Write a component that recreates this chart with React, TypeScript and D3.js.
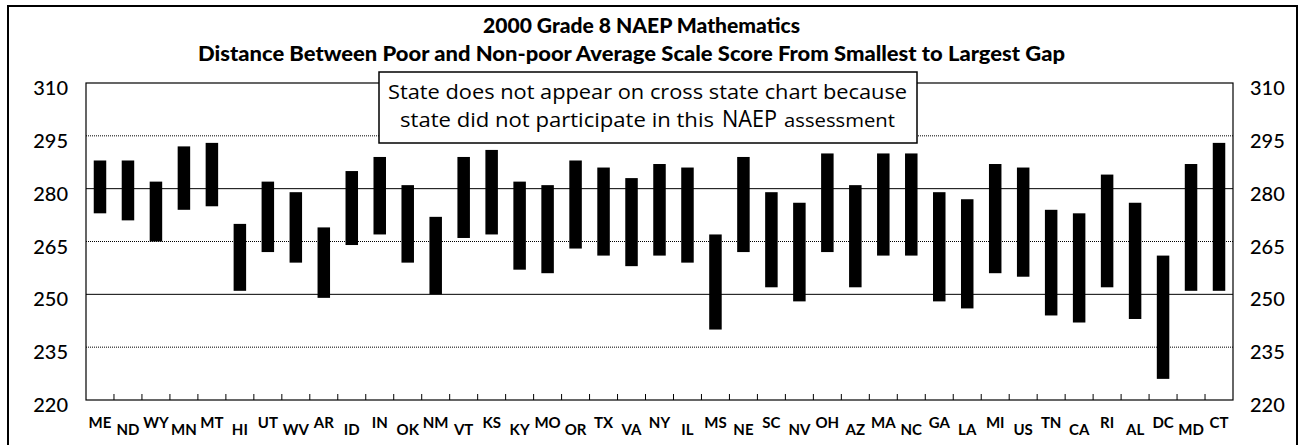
import React, { useEffect, useRef } from 'react';
import * as d3 from 'd3';

// states ordered from smallest to largest poor / non-poor gap
const states = ['ME', 'ND', 'WY', 'MN', 'MT', 'HI', 'UT', 'WV', 'AR', 'ID', 'IN', 'OK', 'NM', 'VT', 'KS', 'KY', 'MO', 'OR', 'TX', 'VA', 'NY', 'IL', 'MS', 'NE', 'SC', 'NV', 'OH', 'AZ', 'MA', 'NC', 'GA', 'LA', 'MI', 'US', 'TN', 'CA', 'RI', 'AL', 'DC', 'MD', 'CT'];
// poor students average scale score (bottom of bar)
const poorScores = [273, 271, 265, 274, 275, 251, 262, 259, 249, 264, 267, 259, 250, 266, 267, 257, 256, 263, 261, 258, 261, 259, 240, 262, 252, 248, 262, 252, 261, 261, 248, 246, 256, 255, 244, 242, 252, 243, 226, 251, 251];
// non-poor students average scale score (top of bar)
const nonPoorScores = [288, 288, 282, 292, 293, 270, 282, 279, 269, 285, 289, 281, 272, 289, 291, 282, 281, 288, 286, 283, 287, 286, 267, 289, 279, 276, 290, 281, 290, 290, 279, 277, 287, 286, 274, 273, 284, 276, 261, 287, 293];
const yTicks = [220, 235, 250, 265, 280, 295, 310];
const solidGrid = [250, 280];
const dottedGrid = [235, 265, 295];

const App = () => {
  const svgRef = useRef(null);

  useEffect(() => {
    const W = 1299, H = 445;
    const plot = { left: 86, right: 1233, top: 83, bottom: 400 };

    const svg = d3.select(svgRef.current);
    svg.selectAll('*').remove();
    svg.attr('width', W).attr('height', H).style('background', 'white');

    const x = d3.scaleBand().domain(states).range([plot.left, plot.right]).padding(0);
    const y = d3.scaleLinear().domain([220, 310]).range([plot.bottom, plot.top]);

    // outer frame
    svg.append('path')
      .attr('d', `M8,${H + 2}V6H1297V${H + 2}`)
      .attr('fill', 'none')
      .attr('stroke', '#000')
      .attr('stroke-width', 2);

    // titles
    const titleFont = 'Lato, "Open Sans", sans-serif';
    svg.append('text')
      .attr('x', 483).attr('y', 33)
      .attr('textLength', 317).attr('lengthAdjust', 'spacingAndGlyphs')
      .style('font-family', titleFont).style('font-weight', 900).style('font-size', '20px')
      .text('2000 Grade 8 NAEP Mathematics');
    svg.append('text')
      .attr('x', 198).attr('y', 61)
      .attr('textLength', 867).attr('lengthAdjust', 'spacingAndGlyphs')
      .style('font-family', titleFont).style('font-weight', 900).style('font-size', '20px')
      .text('Distance Between Poor and Non-poor Average Scale Score From Smallest to Largest Gap');

    // gridlines
    svg.selectAll('.grid-solid').data(solidGrid).enter().append('line')
      .attr('x1', plot.left).attr('x2', plot.right)
      .attr('y1', d => y(d)).attr('y2', d => y(d))
      .attr('stroke', '#000').attr('stroke-width', 1);
    svg.selectAll('.grid-dot').data(dottedGrid).enter().append('line')
      .attr('x1', plot.left).attr('x2', plot.right)
      .attr('y1', d => y(d)).attr('y2', d => y(d))
      .attr('stroke', '#000').attr('stroke-width', 1).attr('stroke-dasharray', '1,1');

    // plot border
    svg.append('rect')
      .attr('x', plot.left).attr('y', plot.top)
      .attr('width', plot.right - plot.left).attr('height', plot.bottom - plot.top)
      .attr('fill', 'none').attr('stroke', '#000').attr('stroke-width', 1.2);

    // x ticks between categories
    svg.selectAll('.tick').data(states.slice(1)).enter().append('line')
      .attr('x1', d => x(d)).attr('x2', d => x(d))
      .attr('y1', plot.bottom).attr('y2', plot.bottom - 6)
      .attr('stroke', '#000').attr('stroke-width', 1);

    // bars
    const barW = 12.5;
    svg.selectAll('.bar').data(states).enter().append('rect')
      .attr('x', d => x(d) + (x.bandwidth() - barW) / 2)
      .attr('width', barW)
      .attr('y', (d, i) => y(nonPoorScores[i]))
      .attr('height', (d, i) => y(poorScores[i]) - y(nonPoorScores[i]))
      .attr('fill', '#000');

    // y labels both sides
    const labelFont = 'Lato, "Open Sans", sans-serif';
    svg.selectAll('.ylab-l').data(yTicks).enter().append('text')
      .attr('x', 68).attr('y', d => y(d) + 12)
      .attr('text-anchor', 'end')
      .style('font-family', labelFont).style('font-size', '20px').style('font-weight', 500)
      .text(d => d);
    svg.selectAll('.ylab-r').data(yTicks).enter().append('text')
      .attr('x', 1250).attr('y', d => y(d) + 12)
      .style('font-family', labelFont).style('font-size', '20px').style('font-weight', 500)
      .text(d => d);

    // x labels, staggered up/down
    svg.selectAll('.xlab').data(states).enter().append('text')
      .attr('x', d => x(d) + x.bandwidth() / 2)
      .attr('y', (d, i) => (i % 2 === 0 ? 428 : 435))
      .attr('text-anchor', 'middle')
      .style('font-family', labelFont).style('font-weight', 700).style('font-size', '15px')
      .text(d => d);

    // note box
    svg.append('rect')
      .attr('x', 379).attr('y', 72).attr('width', 538).attr('height', 71)
      .attr('fill', 'white').attr('stroke', '#000').attr('stroke-width', 1.5);
    const noteFont = '"Open Sans", Lato, sans-serif';
    svg.append('text')
      .attr('x', 388).attr('y', 99)
      .attr('textLength', 519).attr('lengthAdjust', 'spacingAndGlyphs')
      .style('font-family', noteFont).style('font-size', '20px')
      .text('State does not appear on cross state chart because');
    svg.append('text')
      .attr('x', 400).attr('y', 127)
      .attr('textLength', 314).attr('lengthAdjust', 'spacingAndGlyphs')
      .style('font-family', noteFont).style('font-size', '20px')
      .text('state did not participate in this');
    svg.append('text')
      .attr('x', 722).attr('y', 127)
      .attr('textLength', 55).attr('lengthAdjust', 'spacingAndGlyphs')
      .style('font-family', noteFont).style('font-size', '23px')
      .text('NAEP');
    svg.append('text')
      .attr('x', 784).attr('y', 127)
      .attr('textLength', 111).attr('lengthAdjust', 'spacingAndGlyphs')
      .style('font-family', noteFont).style('font-size', '18px')
      .text('assessment');
  }, []);

  return (
    <div style={{ position: 'absolute', left: 0, top: 0 }}>
      <svg ref={svgRef} style={{ display: 'block' }} />
    </div>
  );
};

export default App;
